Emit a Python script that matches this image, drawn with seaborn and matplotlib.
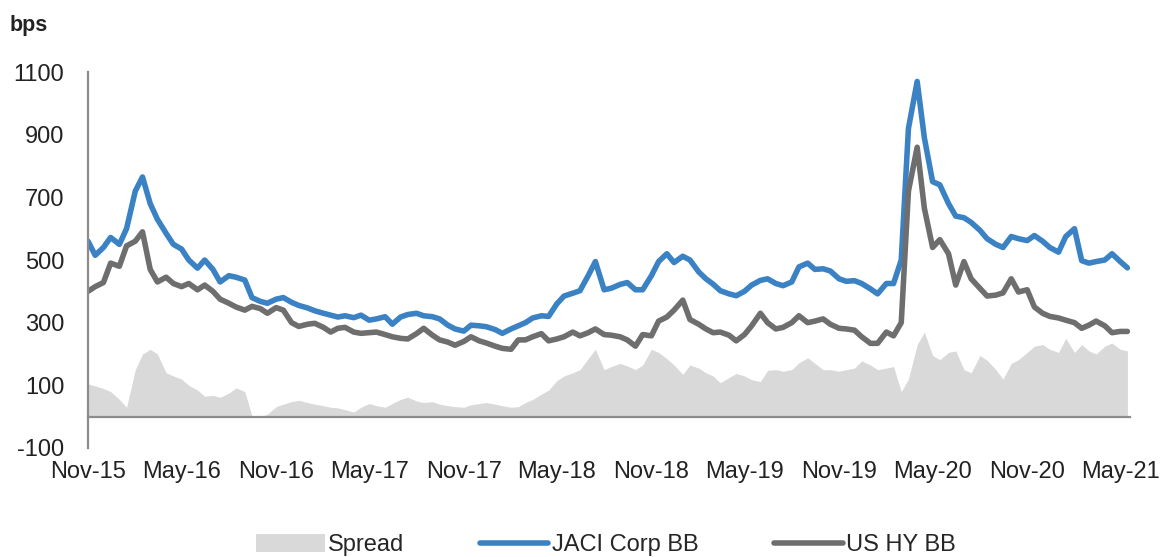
import pandas as pd
import seaborn as sns
import matplotlib.pyplot as plt
import matplotlib.dates as mdates
from matplotlib.patches import Patch
from matplotlib.lines import Line2D

# semi-monthly readings, Nov-15 .. May-21 (bps)
jaci_bb = [560, 515, 540, 572, 550, 600, 720, 765, 680, 630,
           585, 550, 535, 500, 474, 500, 470, 430, 450, 445,
           436, 380, 368, 362, 375, 380, 365, 355, 347, 338,
           330, 324, 318, 322, 316, 324, 308, 312, 319, 295,
           318, 326, 330, 322, 319, 312, 292, 280, 273, 292,
           290, 287, 278, 266, 280, 290, 300, 315, 322, 320,
           360, 385, 394, 402, 450, 495, 405, 410, 422, 428,
           405, 405, 450, 495, 520, 492, 512, 500, 462, 440,
           423, 402, 392, 386, 400, 420, 435, 440, 425, 418,
           430, 478, 490, 470, 472, 465, 440, 432, 434, 425,
           408, 392, 425, 425, 500, 920, 1070, 890, 750, 740,
           680, 640, 635, 620, 595, 568, 550, 540, 575, 568,
           562, 578, 560, 540, 525, 575, 600, 498, 490, 495,
           500, 520, 495, 475]

us_hy_bb = [400, 415, 428, 490, 480, 545, 560, 590, 470, 430,
            445, 425, 415, 425, 405, 420, 400, 375, 362, 350,
            340, 352, 345, 330, 348, 340, 300, 288, 295, 298,
            285, 270, 282, 285, 270, 266, 268, 270, 262, 255,
            250, 248, 265, 282, 260, 245, 238, 228, 240, 255,
            242, 235, 225, 218, 215, 245, 245, 255, 265, 242,
            248, 255, 270, 258, 268, 280, 262, 260, 255, 245,
            225, 262, 258, 305, 318, 340, 372, 310, 295, 280,
            268, 270, 260, 242, 262, 290, 330, 300, 280, 285,
            300, 322, 300, 305, 312, 295, 282, 280, 276, 255,
            234, 234, 270, 258, 300, 720, 860, 665, 540, 565,
            520, 420, 495, 440, 410, 385, 388, 395, 440, 398,
            405, 350, 330, 320, 315, 308, 300, 282, 292, 305,
            290, 268, 272, 272]

spread = [105, 98, 90, 80, 55, 30, 150, 200, 215, 200,
          140, 130, 120, 100, 85, 65, 68, 62, 75, 92,
          80, 2, 0, 8, 32, 40, 48, 52, 45, 40,
          35, 30, 28, 22, 15, 30, 42, 35, 30, 42,
          55, 62, 50, 45, 48, 40, 35, 32, 30, 38,
          42, 45, 40, 35, 30, 32, 45, 55, 72, 85,
          115, 130, 140, 150, 185, 215, 150, 160, 170, 162,
          150, 165, 215, 205, 185, 165, 135, 165, 155, 140,
          130, 108, 125, 138, 130, 118, 112, 148, 150, 145,
          150, 172, 188, 170, 150, 150, 145, 150, 155, 178,
          165, 150, 155, 160, 80, 120, 230, 270, 195, 182,
          205, 210, 150, 140, 195, 180, 150, 120, 170, 182,
          205, 225, 230, 215, 205, 250, 205, 230, 210, 200,
          225, 235, 215, 210]

dates = pd.date_range("2015-11-01", periods=len(jaci_bb), freq="SMS")
df = pd.DataFrame({"date": dates, "JACI Corp BB": jaci_bb,
                   "US HY BB": us_hy_bb, "Spread": spread})

blue = "#3b82c4"
grey = "#6e6e6e"
light = "#d9d9d9"
axis_col = "#8c8c8c"
lw = 4

sns.set_style("white")
plt.rcParams["font.family"] = ["Liberation Sans", "DejaVu Sans"]
plt.rcParams["axes.unicode_minus"] = False

fig = plt.figure(figsize=(11.64, 5.57), dpi=100)
ax = fig.add_axes([88 / 1164, 0.1957, (1130 - 88) / 1164, 0.8707 - 0.1957])

ax.fill_between(df["date"], 0, df["Spread"], color=light, linewidth=0, zorder=1)
sns.lineplot(data=df, x="date", y="JACI Corp BB", color=blue, linewidth=lw, ax=ax, zorder=2)
sns.lineplot(data=df, x="date", y="US HY BB", color=grey, linewidth=lw, ax=ax, zorder=3)

ax.set_ylim(-100, 1100)
ax.set_yticks(range(-100, 1101, 200))
ax.set_xlim(pd.Timestamp("2015-11-01"), pd.Timestamp("2021-05-20"))
ax.xaxis.set_major_locator(mdates.MonthLocator(bymonth=[5, 11]))
ax.xaxis.set_major_formatter(mdates.DateFormatter("%b-%y"))
ax.set_xlabel("")
ax.set_ylabel("")

for s in ["top", "right"]:
    ax.spines[s].set_visible(False)
ax.spines["bottom"].set_position(("data", 0))
for s in ["left", "bottom"]:
    ax.spines[s].set_color(axis_col)
    ax.spines[s].set_linewidth(1.6)
    ax.spines[s].set_zorder(4)

ax.tick_params(axis="x", direction="out", length=7, width=1.5, color=axis_col,
               pad=25, labelsize=17, labelcolor="#222222")
ax.tick_params(axis="y", direction="out", length=7, width=1.5, color=axis_col,
               pad=10, labelsize=17, labelcolor="#222222")

fig.text(10 / 1164, 1 - 25 / 557, "bps", fontsize=15.5, fontweight="bold",
         color="#222222", va="center", ha="left")

handles = [Patch(facecolor=light, edgecolor="none"),
           Line2D([], [], color=blue, linewidth=lw),
           Line2D([], [], color=grey, linewidth=lw)]
fig.legend(handles, ["Spread", "JACI Corp BB", "US HY BB"], loc="center",
           bbox_to_anchor=(606 / 1164, 1 - 545 / 557), ncol=3, frameon=False,
           handlelength=2.9, handleheight=0.8, handletextpad=0.15,
           columnspacing=3.2, fontsize=17)

fig.savefig("out.png", dpi=100)
